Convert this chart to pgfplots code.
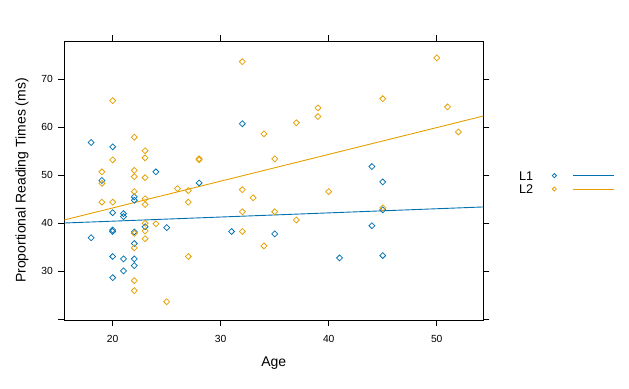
\documentclass[border=0pt]{standalone}
\usepackage{fontspec}
\setmainfont{Liberation Sans}
\usepackage{pgfplots}
\pgfplotsset{compat=1.18}
\definecolor{cblue}{HTML}{0072B2}
\definecolor{corange}{HTML}{E69F00}
\begin{document}
\begin{tikzpicture}
\useasboundingbox (0,0) rectangle (629bp,389bp);
\begin{axis}[
  at={(64.3bp,69bp)}, anchor=south west,
  scale only axis, width=419bp, height=279bp,
  xmin=15.52, xmax=54.31, ymin=19.9, ymax=77.9,
  xtick={20,30,40,50},
  ytick={20,30,40,50,60,70},
  yticklabels={,30,40,50,60,70},
  tick align=outside,
  major tick length=6bp,
  axis line style={line width=0.8bp},
  every tick/.style={black, line width=0.8bp},
  /pgf/number format/assume math mode=true,
  tick label style={font=\fontsize{10.3bp}{12bp}\selectfont},
  xticklabel style={yshift=-5.5bp},
  yticklabel style={xshift=-2bp},
  xlabel={Age},
  ylabel={Proportional Reading Times (ms)},
  label style={font=\fontsize{14bp}{16bp}\selectfont},
  xlabel style={at={(axis description cs:0.5,-0.153)}, anchor=center},
  ylabel style={at={(axis description cs:-0.101,0.5)}, anchor=center},
  legend plot pos=right,
  legend cell align=left,
  legend style={at={(1.085,0.4934)}, anchor=west, draw=none, fill=none,
    inner sep=0pt, row sep=4.3bp, column sep=0pt,
    nodes={inner sep=0pt, text height=9bp, text depth=0pt, font=\fontsize{12.6bp}{14bp}\selectfont}},
]
\addplot[only marks, color=cblue, mark=square, mark size=2.1bp, mark options={rotate=45, line width=0.75bp},
  legend image code/.code={
    \path (0bp,0bp);
    \draw[cblue, line width=0.75bp] (18.9bp,0bp) -- (21bp,2.1bp) -- (23.1bp,0bp) -- (21bp,-2.1bp) -- cycle;
    \draw[cblue, line width=0.9bp] (39.7bp,0bp) -- (81bp,0bp);}]
coordinates {
(18,56.8)(20,55.9)(24,50.7)(19,48.9)(28,48.4)(22,45.5)(22,44.8)(20,42.2)
(21,42.0)(21,41.4)(23,39.3)(25,39.1)(20,38.6)(20,38.3)(22,38.2)(18,37.0)
(22,35.8)(31,38.3)(20,33.1)(21,32.6)(22,32.6)(22,31.2)(21,30.1)(20,28.7)
(32,60.7)(44,51.8)(45,48.6)(45,42.8)(44,39.5)(35,37.8)(41,32.8)(45,33.3)
};
\addlegendentry{L1}
\addplot[only marks, color=corange, mark=square, mark size=2.1bp, mark options={rotate=45, line width=0.75bp},
  legend image code/.code={
    \path (0bp,0bp);
    \draw[corange, line width=0.75bp] (18.9bp,0bp) -- (21bp,2.1bp) -- (23.1bp,0bp) -- (21bp,-2.1bp) -- cycle;
    \draw[corange, line width=0.9bp] (39.7bp,0bp) -- (81bp,0bp);}]
coordinates {
(32,73.6)(20,65.5)(22,57.9)(23,55.1)(23,53.6)(20,53.2)(28,53.4)(28,53.2)
(19,50.7)(22,51.0)(22,49.7)(23,49.5)(19,48.3)(26,47.2)(27,46.8)(22,46.6)
(23,45.1)(23,43.9)(19,44.4)(20,44.4)(27,44.4)(23,40.0)(24,39.9)(23,38.4)
(22,37.9)(23,36.8)(22,34.9)(27,33.1)(22,28.1)(22,26.0)(25,23.7)(50,74.4)
(34,58.6)(37,60.9)(39,64.0)(39,62.2)(45,65.9)(51,64.2)(52,59.0)(35,53.4)
(32,47.0)(33,45.3)(40,46.6)(32,42.4)(35,42.4)(45,43.2)(37,40.7)(32,38.3)
(34,35.3)
};
\addlegendentry{L2}
\addplot[forget plot, color=cblue, line width=0.9bp] coordinates {(15.52,40.06)(54.31,43.4)};
\addplot[forget plot, color=corange, line width=0.9bp] coordinates {(15.52,40.7)(54.31,62.3)};
\end{axis}
\end{tikzpicture}
\end{document}
